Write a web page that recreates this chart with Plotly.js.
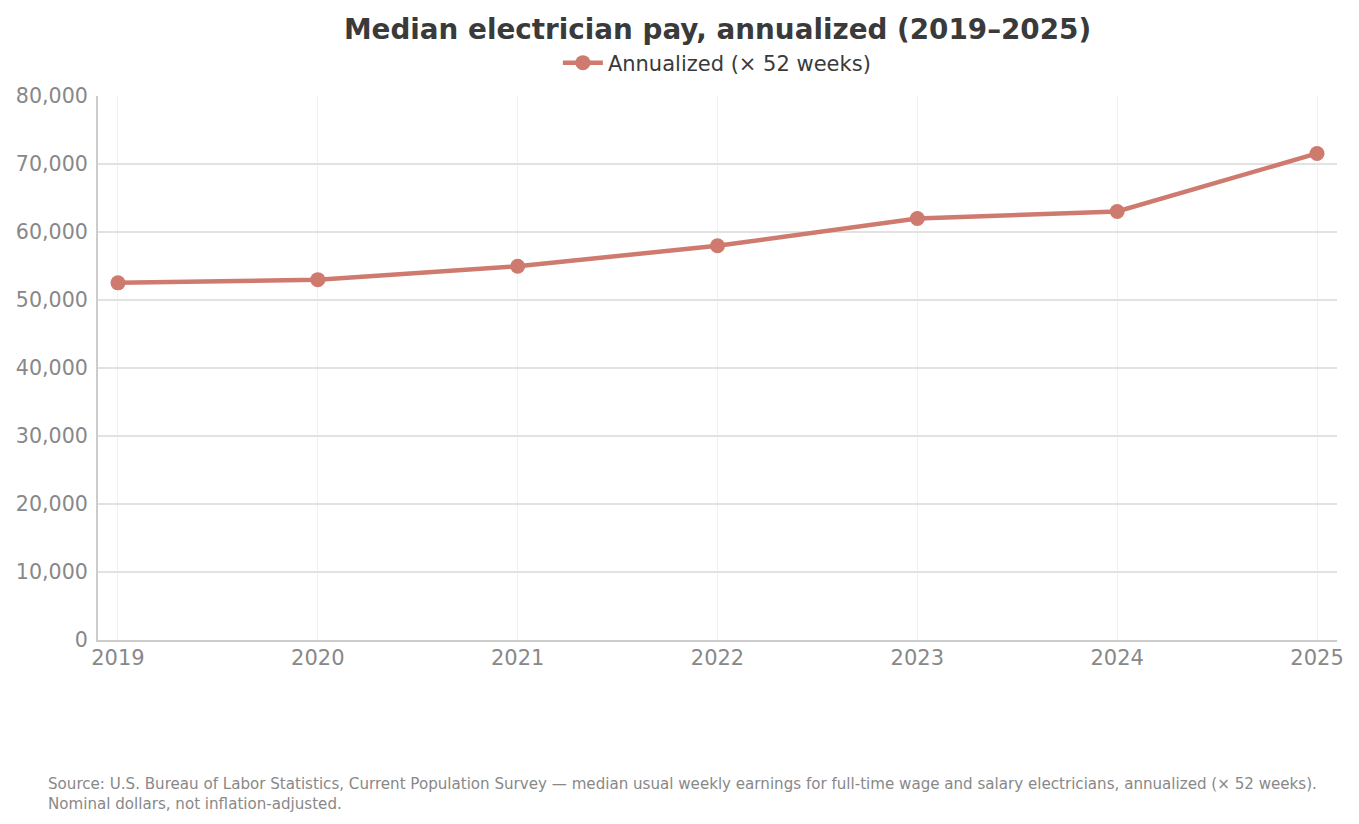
<!DOCTYPE html>
<html>
<head>
<meta charset="utf-8">
<script src="https://cdn.plot.ly/plotly-3.0.1.min.js"></script>
<style>
  html, body { margin: 0; padding: 0; background: #fff; }
  #chart { width: 1359px; height: 824px; }
</style>
</head>
<body>
<div id="chart"></div>
<script>
const years = [2019, 2020, 2021, 2022, 2023, 2024, 2025];
const annualized = [52520, 52990, 54960, 57980, 61980, 63020, 71550];
const yTicks = [0, 10000, 20000, 30000, 40000, 50000, 60000, 70000, 80000];

const lineColor = "#cf7a6f";

const trace = {
  x: years,
  y: annualized,
  type: "scatter",
  mode: "lines+markers",
  name: "Annualized (× 52 weeks)",
  line: { color: lineColor, width: 4.5 },
  marker: { color: lineColor, size: 15 },
  hovertemplate: "%{x}: $%{y:,.0f}<extra></extra>",
};

const layout = {
  width: 1359,
  height: 824,
  font: { family: "DejaVu Sans, sans-serif", color: "#888" },
  paper_bgcolor: "#fff",
  plot_bgcolor: "#fff",
  margin: { l: 98, r: 22, t: 96, b: 184 },
  title: {
    text: "<b>Median electrician pay, annualized (2019–2025)</b>",
    font: { size: 27.8, color: "#3a3a3a" },
    xref: "paper",
    x: 0.5,
    xanchor: "center",
    y: 0.965,
    yanchor: "middle",
  },
  showlegend: true,
  legend: {
    orientation: "h",
    x: 0.4995,
    xanchor: "center",
    y: 1.023,
    yanchor: "bottom",
    font: { size: 21, color: "#3a3a3a" },
    itemwidth: 40,
  },
  xaxis: {
    range: [2018.9, 2025.1],
    tickvals: years,
    ticktext: years.map(String),
    tickfont: { size: 21, color: "#888" },
    ticklabelstandoff: -2,
    showgrid: true,
    gridcolor: "#f1f1f1",
    showline: true,
    linecolor: "#cccccc",
    linewidth: 2,
    zeroline: false,
    ticks: "",
  },
  yaxis: {
    range: [0, 80000],
    tickvals: yTicks,
    ticktext: yTicks.map((v) => v.toLocaleString("en-US")),
    tickfont: { size: 20.6, color: "#888" },
    showgrid: true,
    gridcolor: "#e2e2e2",
    gridwidth: 1.5,
    showline: true,
    linecolor: "#cccccc",
    linewidth: 2,
    zeroline: false,
    ticks: "outside",
    ticklen: 4,
    tickcolor: "rgba(0,0,0,0)",
  },
  annotations: [
    {
      xref: "paper",
      yref: "paper",
      x: -0.042,
      y: -0.244,
      xanchor: "left",
      yanchor: "top",
      align: "left",
      showarrow: false,
      text:
        "Source: U.S. Bureau of Labor Statistics, Current Population Survey — median usual weekly earnings for full-time wage and salary electricians, annualized (× 52 weeks).<br>Nominal dollars, not inflation-adjusted.",
      font: { size: 15.1, color: "#888" },
    },
  ],
};

Plotly.newPlot("chart", [trace], layout, { displayModeBar: false, responsive: false });
</script>
</body>
</html>
